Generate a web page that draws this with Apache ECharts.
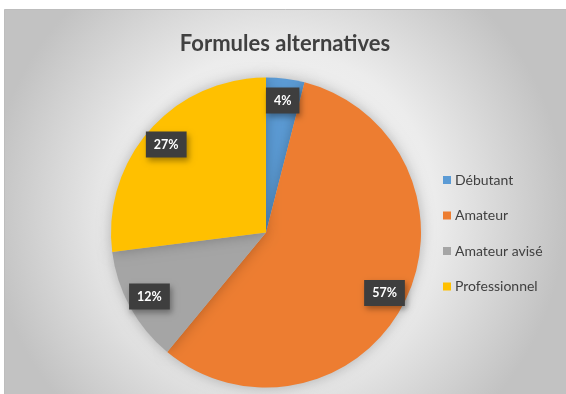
<!DOCTYPE html>
<html>
<head>
<meta charset="utf-8">
<script src="https://cdn.jsdelivr.net/npm/echarts@6/dist/echarts.min.js"></script>
<style>
html,body{margin:0;padding:0;background:#fff;}
#chart{width:566px;height:394px;}
</style>
</head>
<body>
<div id="chart"></div>
<script>
const categories = ['Débutant', 'Amateur', 'Amateur avisé', 'Professionnel'];
const values = [4, 57, 12, 27];
const colors = ['#5B9BD5', '#ED7D31', '#A5A5A5', '#FFC000'];
const titleText = 'Formules alternatives';

const data = categories.map((n, i) => ({ name: n, value: values[i], itemStyle: { color: colors[i] } }));
const labelData = categories.map((n, i) => ({ name: n, value: values[i] }));

const chart = echarts.init(document.getElementById('chart'), null, { renderer: 'canvas' });
chart.setOption({
  backgroundColor: '#ffffff',
  animation: false,
  graphic: [{
    type: 'rect',
    z: -10,
    silent: true,
    shape: { x: 4.5, y: 9.5, width: 580, height: 400 },
    style: {
      fill: {
        type: 'radial', x: 0.47, y: 0.5, r: 0.72,
        colorStops: [
          { offset: 0, color: '#f8f8f8' },
          { offset: 0.55, color: '#ececec' },
          { offset: 1, color: '#c2c2c2' }
        ]
      },
      stroke: '#bdbdbd', lineWidth: 1
    }
  }],
  title: {
    text: titleText,
    left: 280, top: 28, textAlign: 'center',
    textStyle: { fontFamily: 'Lato', fontWeight: 'bold', fontSize: 22, color: '#404040' }
  },
  legend: {
    orient: 'vertical',
    left: 438, top: 167,
    icon: 'rect', itemWidth: 8, itemHeight: 8, itemGap: 19.5,
    data: categories,
    textStyle: { fontFamily: 'Lato', fontSize: 14, color: '#404040', lineHeight: 16, padding: [0, 0, 0, -1] }
  },
  series: [{
    type: 'pie',
    center: [266, 232.5],
    radius: [0, 155],
    startAngle: 90,
    clockwise: true,
    silent: true,
    label: { show: false },
    labelLine: { show: false },
    itemStyle: { shadowBlur: 14, shadowColor: 'rgba(0,0,0,0.25)' },
    data: data
  }, {
    type: 'pie',
    center: [266, 232.5],
    radius: [105, 155],
    startAngle: 90,
    clockwise: true,
    silent: true,
    legendHoverLink: false,
    itemStyle: { color: 'rgba(0,0,0,0)' },
    labelLine: { show: false },
    label: {
      show: true, position: 'inside',
      formatter: '{c}%',
      fontFamily: 'Lato', fontWeight: 'bold', fontSize: 12.5, color: '#ffffff',
      lineHeight: 14,
      backgroundColor: '#3e3e3e',
      padding: [6, 8],
      shadowBlur: 6, shadowOffsetX: 2, shadowOffsetY: 3, shadowColor: 'rgba(0,0,0,0.35)'
    },
    data: labelData
  }]
});
</script>
</body>
</html>
